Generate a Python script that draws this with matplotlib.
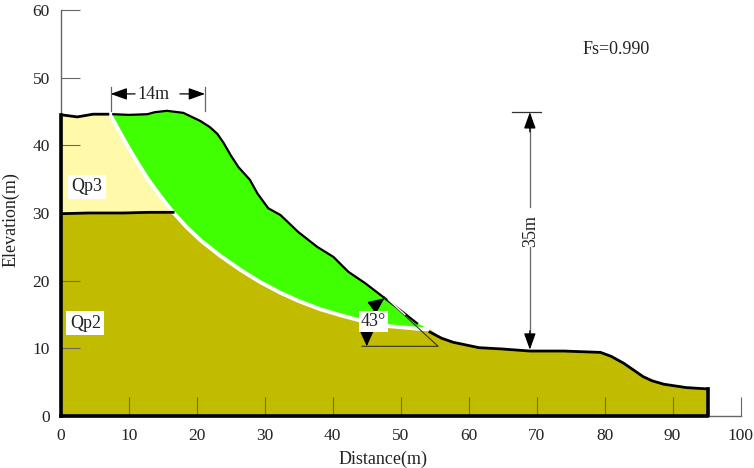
import numpy as np
import matplotlib
matplotlib.use('Agg')
import matplotlib.pyplot as plt

plt.rcParams['font.family'] = ['Liberation Serif', 'DejaVu Serif']

# ground surface
surf_x = [0.1, 2.4, 4.7, 6.9, 7.7, 10, 12.7, 13.8, 15.6, 18, 20.5, 21.9, 23, 23.9, 25, 26.1, 27.8, 28.9, 30.5,
          32.3, 34.9, 37.7, 40.1, 42.3, 44.8, 47.4, 50, 52.4, 54.3, 56, 57.7, 61.5, 65, 69, 74, 79.4, 81, 82.8,
          85.7, 87, 88.7, 92, 95.2]
surf_y = [44.5, 44.2, 44.6, 44.6, 44.6, 44.5, 44.6, 44.9, 45.1, 44.8, 43.6, 42.7, 41.7, 40.4, 38.5, 36.8, 34.9, 32.9, 30.7,
          29.7, 27.2, 25, 23.5, 21.3, 19.6, 17.6, 15.6, 13.7, 12.4, 11.5, 10.9, 10.1, 9.9, 9.6, 9.6, 9.4, 8.8, 7.8,
          5.8, 5.2, 4.7, 4.2, 4]

# slip surface
slip_x = [7.2, 8.3, 9.4, 10.5, 11.6, 12.8, 14.1, 15.3, 16.5, 18.5, 20.5, 23.4, 26.4, 29.3, 32.3, 35.2, 38.1, 41.1, 43.7, 48, 52.4, 54.3]
slip_y = [44.6, 42.6, 40.6, 38.7, 36.9, 35, 33.2, 31.6, 30.1, 27.9, 26, 23.7, 21.6, 19.8, 18.2, 16.9, 15.8, 14.9, 14.2, 13.3, 12.9, 12.8]

# boundary between Qp3 and Qp2
layer_x = [0, 4, 9.1, 13, 16.5]
layer_y = [29.9, 30, 30, 30.1, 30.1]

xticks = [0, 10, 20, 30, 40, 50, 60, 70, 80, 90, 100]
yticks = [0, 10, 20, 30, 40, 50, 60]

YELLOW = '#FFFAAA'
OLIVE = '#C2BC00'
GREEN = '#3FFF00'
GREY = '#666666'
TEXT = '#222222'
END = 95.2

fig = plt.figure(figsize=(7.54, 4.68), dpi=100)
ax = fig.add_axes([61 / 754, 1 - 416 / 468, 679.5 / 754, 406 / 468])
ax.set_xlim(0, 100)
ax.set_ylim(0, 60)

surf_x = np.array(surf_x)
surf_y = np.array(surf_y)
cut = slip_x.index(16.5)

# Qp3 block, above the layer boundary and left of the slip surface
head = surf_x <= slip_x[0]
qp3_x = [0] + list(surf_x[head]) + slip_x[:cut + 1] + layer_x[::-1]
qp3_y = [44.5] + list(surf_y[head]) + slip_y[:cut + 1] + layer_y[::-1]
ax.fill(qp3_x, qp3_y, color=YELLOW, lw=0, zorder=1)

# Qp2 base
toe = surf_x > slip_x[-1]
base_x = slip_x[cut:] + list(surf_x[toe]) + [END, 0] + layer_x
base_y = slip_y[cut:] + list(surf_y[toe]) + [0, 0] + layer_y
ax.fill(base_x, base_y, color=OLIVE, lw=0, zorder=1)

# sliding mass
mid = (surf_x > slip_x[0]) & (surf_x < slip_x[-1])
mass_x = [slip_x[0]] + list(surf_x[mid]) + slip_x[::-1]
mass_y = [slip_y[0]] + list(surf_y[mid]) + slip_y[::-1]
ax.fill(mass_x, mass_y, color=GREEN, lw=0, zorder=1)

# outlines, the surface line breaks where the slip surface comes out
ax.plot(slip_x, slip_y, color='white', lw=2.8, zorder=3, solid_capstyle='butt', solid_joinstyle='round')
ax.plot(surf_x[surf_x <= 6.9], surf_y[surf_x <= 6.9], color='k', lw=2, zorder=4)
part = (surf_x >= 7.7) & (surf_x <= 52.4)
ax.plot(surf_x[part], surf_y[part], color='k', lw=1.6, zorder=4)
ax.plot(surf_x[surf_x >= 54.3], surf_y[surf_x >= 54.3], color='k', lw=2, zorder=4)
ax.plot(layer_x, layer_y, color='k', lw=2, zorder=4)
ax.plot([0, 0], [0, 44.5], color='k', lw=2.6, zorder=4, clip_on=False)
ax.plot([0, END, END], [0, 0, 4], color='k', lw=2.6, zorder=4, clip_on=False)

# axes
for s in ['top', 'right']:
    ax.spines[s].set_visible(False)
for s in ['left', 'bottom']:
    ax.spines[s].set_color(GREY)
    ax.spines[s].set_linewidth(1)
ax.set_xticks(xticks)
ax.set_yticks(yticks)
ax.tick_params(direction='in', length=14, width=0.8, color=GREY, labelsize=12.5, labelcolor=TEXT)
ax.tick_params(axis='x', pad=9)
ax.tick_params(axis='y', pad=8)
ax.set_xlabel('Distance(m)', fontsize=13, color=TEXT)
ax.set_ylabel('Elevation(m)', fontsize=13, color=TEXT)
ax.xaxis.set_label_coords(0.474, -35 / 406)
ax.yaxis.set_label_coords(-41 / 679.5, 0.483)


def dim_arrow(x0, y0, x1, y1, width=0.36):
    ax.annotate('', xy=(x1, y1), xytext=(x0, y0), zorder=6,
                arrowprops=dict(arrowstyle=f'-|>,head_length=1.0,head_width={width}', color='k', lw=0.9,
                                shrinkA=0, shrinkB=0))


# 14m dimension
ax.plot([7.3, 7.3], [45, 48.6], color=GREY, lw=0.9, zorder=5)
ax.plot([21.2, 21.2], [45, 48.6], color=GREY, lw=0.9, zorder=5)
dim_arrow(10.9, 47.6, 7.3, 47.6)
dim_arrow(17.5, 47.6, 21.2, 47.6)
ax.text(13.6, 47.5, '14m', ha='center', va='center', fontsize=13, color=TEXT)

# 35m dimension
ax.plot([66.3, 70.6], [44.9, 44.9], color='#333333', lw=0.9, zorder=5)
ax.plot([69, 69], [44.5, 30.9], color=GREY, lw=0.9, zorder=5)
ax.plot([69, 69], [25, 10.5], color=GREY, lw=0.9, zorder=5)
dim_arrow(69, 42, 69, 44.9)
dim_arrow(69, 12.6, 69, 9.8)
ax.text(69.1, 27.3, '35m', rotation=90, ha='center', va='center', fontsize=13, color=TEXT, zorder=6)

# slope angle
ax.plot([44.3, 55.5, 47.6], [10.3, 10.3, 17.6], color='#333333', lw=0.8, zorder=5)
ax.plot([48.2, 50.6], [17.2, 15], color='white', lw=1, zorder=5)
dim_arrow(46, 16.2, 47.6, 17.4, width=0.45)
dim_arrow(45, 13, 45, 10.3, width=0.45)
ax.text(46, 14, '43°', ha='center', va='center', fontsize=13, color=TEXT, zorder=6,
        bbox=dict(fc='white', ec='none', pad=1.5))

# labels
ax.text(1.5, 33.9, 'Qp3', ha='left', va='center', fontsize=13, color=TEXT, zorder=6,
        bbox=dict(fc='white', ec='none', pad=2.5))
ax.text(1.3, 13.7, 'Qp2', ha='left', va='center', fontsize=13, color=TEXT, zorder=6,
        bbox=dict(fc='white', ec='none', pad=2.5))
ax.text(76.7, 54.2, 'Fs=0.990', ha='left', va='center', fontsize=13, color=TEXT)

fig.savefig('out.png', dpi=100)
